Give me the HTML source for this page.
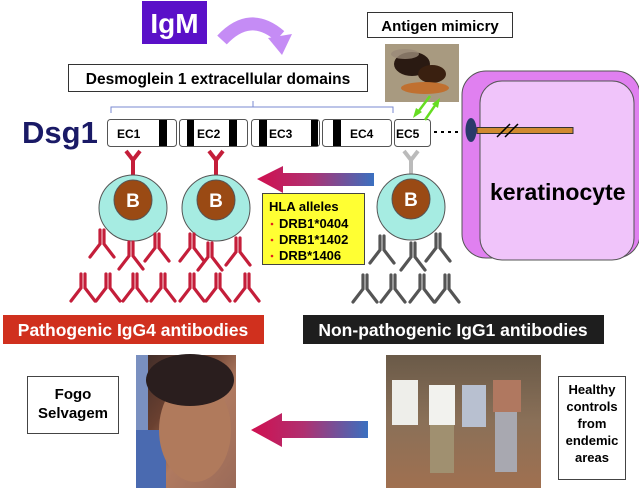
<!DOCTYPE html>
<html><head><meta charset="utf-8"><style>
html,body{margin:0;padding:0;background:#fff;}
svg{display:block;}
text{font-family:"Liberation Sans",Arial,sans-serif;font-weight:bold;}
</style></head><body>
<svg width="639" height="488" viewBox="0 0 639 488" xmlns="http://www.w3.org/2000/svg">
<defs>
<linearGradient id="ag" x1="0" x2="1" y1="0" y2="0">
<stop offset="0" stop-color="#d01050"/><stop offset="0.45" stop-color="#b03070"/><stop offset="1" stop-color="#3a70c0"/>
</linearGradient>
<g id="abr" fill="none" stroke="#c41e3a" stroke-width="3.2" stroke-linecap="round">
<path d="M-2 0 V14 L-12 27 M2 0 V14 L12 27"/>
</g>
<g id="abg" fill="none" stroke="#555" stroke-width="3.2" stroke-linecap="round">
<path d="M-2 0 V14 L-12 27 M2 0 V14 L12 27"/>
</g>
<linearGradient id="boy" x1="0" x2="1" y1="0" y2="1">
<stop offset="0" stop-color="#3a2a28"/><stop offset="0.35" stop-color="#6a4030"/><stop offset="0.6" stop-color="#b07a60"/><stop offset="1" stop-color="#9a6a58"/>
</linearGradient>
<linearGradient id="grp" x1="0" x2="0" y1="0" y2="1">
<stop offset="0" stop-color="#6a5a48"/><stop offset="0.5" stop-color="#8a7058"/><stop offset="1" stop-color="#a07050"/>
</linearGradient>
</defs>

<!-- IgM -->
<rect x="142" y="1" width="65" height="43" fill="#5a10c8"/>
<text x="174.5" y="33" font-size="28" fill="#fff" text-anchor="middle">IgM</text>
<path d="M222 40 Q250 10 280 36" fill="none" stroke="#c58cf5" stroke-width="13"/>
<polygon points="268,38 292,34 282,55" fill="#c58cf5"/>

<!-- Antigen mimicry -->
<rect x="367.5" y="12.5" width="145" height="25" fill="#fff" stroke="#333"/>
<text x="440" y="31" font-size="15" text-anchor="middle" fill="#000">Antigen mimicry</text>
<rect x="385" y="44" width="74" height="58" fill="#a89a80"/>
<ellipse cx="412" cy="64" rx="18" ry="12" fill="#2a1a12"/>
<ellipse cx="432" cy="74" rx="14" ry="9" fill="#3a2010"/>
<ellipse cx="425" cy="88" rx="24" ry="6" fill="#c07030"/>
<ellipse cx="405" cy="54" rx="14" ry="5" fill="#9a8a78" opacity="0.8"/>

<!-- Desmoglein box -->
<rect x="68.5" y="64.5" width="299" height="27" fill="#fff" stroke="#333"/>
<text x="218" y="84" font-size="15.5" text-anchor="middle" fill="#000">Desmoglein 1 extracellular domains</text>
<path d="M111 113 V107 H393 V113 M253 107 V101" fill="none" stroke="#7a8ad0" stroke-width="1"/>

<!-- Keratinocyte -->
<rect x="462" y="71" width="178" height="187" rx="24" fill="#e080f0" stroke="#555" stroke-width="1"/>
<rect x="480" y="81" width="154" height="179" rx="22" fill="#f0c4fa" stroke="#555" stroke-width="1"/>
<text x="490" y="200" font-size="23" fill="#000" font-weight="normal" style="font-weight:bold">keratinocyte</text>

<!-- Dsg1 -->
<text x="22" y="143" font-size="31" fill="#1a1a66">Dsg1</text>
<g stroke="#555" fill="#fff">
<rect x="107.5" y="119.5" width="69" height="27" rx="3"/>
<rect x="179.5" y="119.5" width="68" height="27" rx="3"/>
<rect x="251.5" y="119.5" width="68" height="27" rx="3"/>
<rect x="322.5" y="119.5" width="69" height="27" rx="3"/>
<rect x="394.5" y="119.5" width="36" height="27" rx="3"/>
</g>
<g fill="#000">
<rect x="159" y="120" width="8" height="26"/>
<rect x="187" y="120" width="7" height="26"/>
<rect x="229" y="120" width="8" height="26"/>
<rect x="259" y="120" width="8" height="26"/>
<rect x="311" y="120" width="7" height="26"/>
<rect x="333" y="120" width="8" height="26"/>
</g>
<g font-size="12" fill="#000">
<text x="117" y="138">EC1</text>
<text x="197" y="138">EC2</text>
<text x="269" y="138">EC3</text>
<text x="350" y="138">EC4</text>
<text x="396" y="138">EC5</text>
</g>
<line x1="434" y1="132" x2="458" y2="132" stroke="#000" stroke-width="2" stroke-dasharray="3,4"/>
<rect x="477" y="127.5" width="96" height="6" fill="#d08a30" stroke="#333"/>
<path d="M497 137 L510 124 M505 137 L518 124" stroke="#000" stroke-width="1.5"/>
<ellipse cx="471" cy="130" rx="5.5" ry="12" fill="#2a3a6a"/>
<!-- green arrows -->
<g stroke="#66dd22" stroke-width="2.5" fill="#66dd22">
<line x1="430" y1="96" x2="418" y2="112"/>
<polygon points="413,118 416,108 422,112" stroke="none"/>
<line x1="425" y1="120" x2="436" y2="104"/>
<polygon points="440,98 432,104 438,108" stroke="none"/>
</g>

<!-- B cell stems -->
<g fill="none" stroke-width="4">
<path d="M133 175 V160 M133 160 L126 151 M133 160 L140 151" stroke="#c41e3a"/>
<path d="M216 175 V160 M216 160 L209 151 M216 160 L223 151" stroke="#c41e3a"/>
<path d="M411 174 V160 M411 160 L404 151 M411 160 L418 151" stroke="#bbb"/>
</g>
<!-- B cells -->
<g stroke="#555" stroke-width="1">
<ellipse cx="133" cy="208" rx="34" ry="33" fill="#a6ece2"/>
<ellipse cx="216" cy="208" rx="34" ry="33" fill="#a6ece2"/>
<ellipse cx="411" cy="207" rx="34" ry="33" fill="#a6ece2"/>
<ellipse cx="133" cy="200" rx="19" ry="20" fill="#9a4a14"/>
<ellipse cx="216" cy="200" rx="19" ry="20" fill="#9a4a14"/>
<ellipse cx="411" cy="199" rx="19" ry="20" fill="#9a4a14"/>
</g>
<g font-size="19" fill="#fff" text-anchor="middle">
<text x="133" y="207">B</text><text x="216" y="207">B</text><text x="411" y="206">B</text>
</g>

<!-- top arrow -->
<polygon points="257,179 283,166 283,173 374,173 374,186 283,186 283,193" fill="url(#ag)"/>

<!-- HLA box -->
<rect x="262.5" y="193.5" width="102" height="71" fill="#ffff33" stroke="#444"/>
<g font-size="13" fill="#000">
<text x="269" y="211">HLA alleles</text>
<text x="279" y="228">DRB1*0404</text>
<text x="279" y="244">DRB1*1402</text>
<text x="279" y="260">DRB*1406</text>
</g>
<g fill="#e02020"><circle cx="272" cy="224" r="1.3"/><circle cx="272" cy="240" r="1.3"/><circle cx="272" cy="256" r="1.3"/></g>

<!-- antibodies red -->
<use href="#abr" x="102" y="230"/>
<use href="#abr" x="131" y="242"/>
<use href="#abr" x="157" y="234"/>
<use href="#abr" x="192" y="234"/>
<use href="#abr" x="210" y="243"/>
<use href="#abr" x="238" y="238"/>
<use href="#abr" x="83" y="274"/>
<use href="#abr" x="108" y="274"/>
<use href="#abr" x="135" y="274"/>
<use href="#abr" x="163" y="274"/>
<use href="#abr" x="192" y="274"/>
<use href="#abr" x="218" y="274"/>
<use href="#abr" x="247" y="274"/>
<!-- antibodies gray -->
<use href="#abg" x="382" y="236"/>
<use href="#abg" x="413" y="243"/>
<use href="#abg" x="438" y="234"/>
<use href="#abg" x="365" y="275"/>
<use href="#abg" x="393" y="275"/>
<use href="#abg" x="422" y="275"/>
<use href="#abg" x="447" y="275"/>

<!-- labels -->
<rect x="3" y="315" width="261" height="29" fill="#d0301e"/>
<text x="133" y="336" font-size="17.5" fill="#fff" text-anchor="middle">Pathogenic  IgG4 antibodies</text>
<rect x="303" y="315" width="301" height="29" fill="#1e1e1e"/>
<text x="453" y="336" font-size="17.5" fill="#fff" text-anchor="middle">Non-pathogenic IgG1 antibodies</text>

<!-- bottom -->
<rect x="27.5" y="376.5" width="91" height="57" fill="#fff" stroke="#444"/>
<text x="73" y="399" font-size="15" text-anchor="middle" fill="#000">Fogo</text>
<text x="73" y="418" font-size="15" text-anchor="middle" fill="#000">Selvagem</text>

<rect x="136" y="355" width="100" height="133" fill="url(#boy)"/>
<rect x="136" y="355" width="12" height="133" fill="#7a90c0"/>
<rect x="136" y="430" width="30" height="58" fill="#4a6ab0"/>
<ellipse cx="195" cy="430" rx="36" ry="52" fill="#b07a5c"/>
<ellipse cx="190" cy="380" rx="44" ry="26" fill="#2a1e1e"/>

<polygon points="251,430 282,413 282,421 368,421 368,438 282,438 282,447" fill="url(#ag)"/>

<rect x="386" y="355" width="155" height="133" fill="url(#grp)"/>
<rect x="392" y="380" width="26" height="45" fill="#eeeeea"/>
<rect x="429" y="385" width="26" height="40" fill="#f2f2ee"/>
<rect x="430" y="425" width="24" height="48" fill="#a09070"/>
<rect x="462" y="385" width="24" height="42" fill="#b8c0d0"/>
<rect x="493" y="380" width="28" height="32" fill="#b07860"/>
<rect x="495" y="412" width="22" height="60" fill="#a8a8b0"/>

<rect x="558.5" y="376.5" width="67" height="103" fill="#fff" stroke="#444"/>
<g font-size="13" text-anchor="middle" fill="#000">
<text x="592" y="394">Healthy</text>
<text x="592" y="411">controls</text>
<text x="592" y="428">from</text>
<text x="592" y="445">endemic</text>
<text x="592" y="462">areas</text>
</g>
</svg>
</body></html>
